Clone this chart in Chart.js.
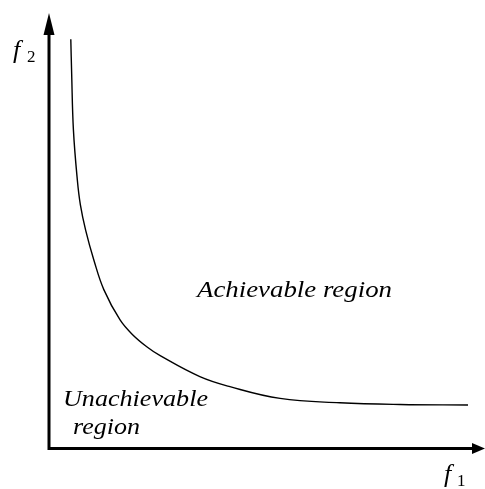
<!DOCTYPE html>
<html>
<head>
<meta charset="utf-8">
<script src="https://cdn.jsdelivr.net/npm/chart.js@4"></script>
<style>
  body { margin: 0; background: white; }
  canvas { display: block; }
</style>
</head>
<body>
<canvas id="front" width="485" height="489"></canvas>
<script>
// pareto front (axes run 0..10)
var f1 = [0.50, 0.52, 0.56, 0.65, 0.72, 0.84, 1.03, 1.26, 1.63, 1.93, 2.25, 2.55, 3.46, 4.15, 5.30, 6.67, 8.05, 9.61];
var f2 = [9.40, 8.60, 7.32, 6.17, 5.60, 5.02, 4.33, 3.65, 2.96, 2.61, 2.34, 2.14, 1.66, 1.43, 1.16, 1.06, 1.02, 1.01];

var achievableLabel = "Achievable region";
var unachievableLines = ["Unachievable", "region"];

var points = f1.map(function (v, i) { return { x: v, y: f2[i] }; });

var serif = "'Liberation Serif', 'Times New Roman', serif";

// the original uses a wider serif, so stretch the text to its width
function wideText(ctx, text, x, y, w) {
    var m = ctx.measureText(text).width;
    ctx.save();
    ctx.translate(x, y);
    ctx.scale(w / m, 1);
    ctx.fillText(text, 0, 0);
    ctx.restore();
}

var axesPlugin = {
    id: "axes",
    afterDraw: function (chart) {
        var ctx = chart.ctx;
        var sx = chart.scales.x, sy = chart.scales.y;
        var x0 = sx.getPixelForValue(0), xEnd = sx.getPixelForValue(10);
        var y0 = sy.getPixelForValue(0) - 0.5, yEnd = sy.getPixelForValue(10);
        ctx.save();
        ctx.strokeStyle = "black";
        ctx.fillStyle = "black";
        ctx.lineWidth = 3;
        ctx.beginPath();
        ctx.moveTo(x0, y0 + 1.5);
        ctx.lineTo(x0, yEnd + 20);
        ctx.moveTo(x0 - 1.5, y0);
        ctx.lineTo(xEnd - 12, y0);
        ctx.stroke();
        // arrow heads
        ctx.beginPath();
        ctx.moveTo(x0, yEnd);
        ctx.lineTo(x0 - 5.5, yEnd + 22);
        ctx.lineTo(x0 + 5.5, yEnd + 22);
        ctx.closePath();
        ctx.fill();
        ctx.beginPath();
        ctx.moveTo(xEnd, y0);
        ctx.lineTo(xEnd - 13, y0 - 5.5);
        ctx.lineTo(xEnd - 13, y0 + 5.5);
        ctx.closePath();
        ctx.fill();

        // axis names
        ctx.textBaseline = "alphabetic";
        ctx.font = "italic 26px " + serif;
        ctx.fillText("f", 13, 58);
        ctx.fillText("f", 444, 482);
        ctx.font = "17px " + serif;
        ctx.fillText("2", 27, 62);
        ctx.fillText("1", 457, 486);

        // region labels
        ctx.font = "italic 23px " + serif;
        wideText(ctx, achievableLabel, 197, 297, 195);
        wideText(ctx, unachievableLines[0], 63, 406, 145);
        wideText(ctx, unachievableLines[1], 73, 434, 67);
        ctx.restore();
    }
};

new Chart(document.getElementById("front").getContext("2d"), {
    type: "scatter",
    data: {
        datasets: [{
            data: points,
            showLine: true,
            borderColor: "black",
            borderWidth: 1.4,
            pointRadius: 0,
            tension: 0.4,
            fill: false
        }]
    },
    options: {
        responsive: false,
        animation: false,
        layout: { padding: { left: 49, right: 0, top: 13, bottom: 40 } },
        plugins: { legend: { display: false }, tooltip: { enabled: false } },
        scales: {
            x: { type: "linear", min: 0, max: 10, display: false },
            y: { type: "linear", min: 0, max: 10, display: false }
        }
    },
    plugins: [axesPlugin]
});
</script>
</body>
</html>
